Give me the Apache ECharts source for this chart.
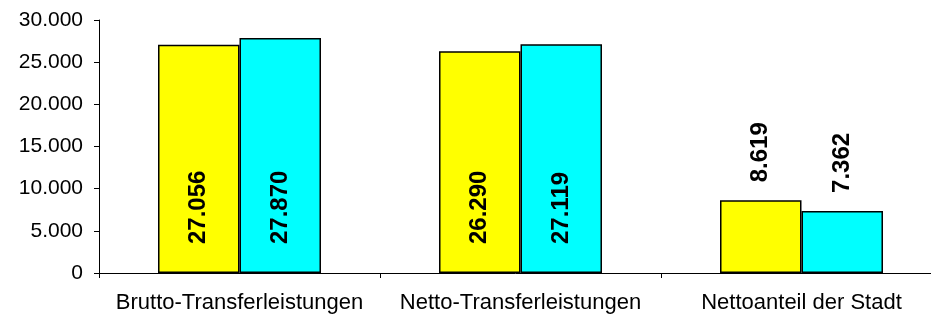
<!DOCTYPE html>
<html>
<head>
<meta charset="utf-8">
<script src="https://cdn.jsdelivr.net/npm/echarts@6/dist/echarts.min.js"></script>
<style>
html,body{margin:0;padding:0;background:#fff;overflow:hidden;}
#chart{width:931px;height:320px;}
</style>
</head>
<body>
<div id="chart"></div>
<script>
const categories = ['Brutto-Transferleistungen', 'Netto-Transferleistungen', 'Nettoanteil der Stadt'];
const seriesA = [27056, 26290, 8619];
const seriesB = [27870, 27119, 7362];
const yTicks = { min: 0, max: 30000, interval: 5000 };

function fmt(v) {
  return String(v).replace(/\B(?=(\d{3})+(?!\d))/g, '.');
}

const FONT = '"Liberation Sans", Arial, sans-serif';

function makeData(values) {
  return values.map(v => {
    const inside = v > 15000;
    return {
      value: v,
      label: inside
        ? { position: 'insideBottom', distance: 29 }
        : { position: 'top', distance: 18 }
    };
  });
}

function makeSeries(name, values, color) {
  return {
    name: name,
    type: 'bar',
    data: makeData(values),
    barGap: '0%',
    barCategoryGap: '42%',
    itemStyle: { color: color, borderColor: '#000', borderWidth: 1.5 },
    label: {
      show: true,
      rotate: 90,
      align: 'left',
      verticalAlign: 'middle',
      color: '#000',
      fontFamily: FONT,
      fontWeight: 'bold',
      fontSize: 24,
      formatter: p => fmt(p.value)
    },
    emphasis: { disabled: true }
  };
}

const chart = echarts.init(document.getElementById('chart'), null, { renderer: 'canvas' });
chart.setOption({
  animation: false,
  backgroundColor: '#fff',
  grid: { left: 99, right: -11, top: 20, bottom: 47, containLabel: false, outerBoundsMode: 'none' },
  xAxis: {
    type: 'category',
    data: categories,
    axisLine: { show: true, lineStyle: { color: '#000', width: 1 } },
    axisTick: { show: true, length: 5, lineStyle: { color: '#000' } },
    axisLabel: { interval: 0, hideOverlap: false, color: '#000', fontFamily: FONT, fontSize: 22, margin: 19 }
  },
  yAxis: {
    type: 'value',
    min: yTicks.min,
    max: yTicks.max,
    interval: yTicks.interval,
    axisLine: { show: true, lineStyle: { color: '#000', width: 1 } },
    axisTick: { show: true, length: 5, lineStyle: { color: '#000' } },
    splitLine: { show: false },
    axisLabel: { color: '#000', fontFamily: FONT, fontSize: 21, margin: 16, formatter: v => fmt(v) }
  },
  series: [
    makeSeries('A', seriesA, '#FFFF00'),
    makeSeries('B', seriesB, '#00FFFF')
  ]
});
</script>
</body>
</html>
